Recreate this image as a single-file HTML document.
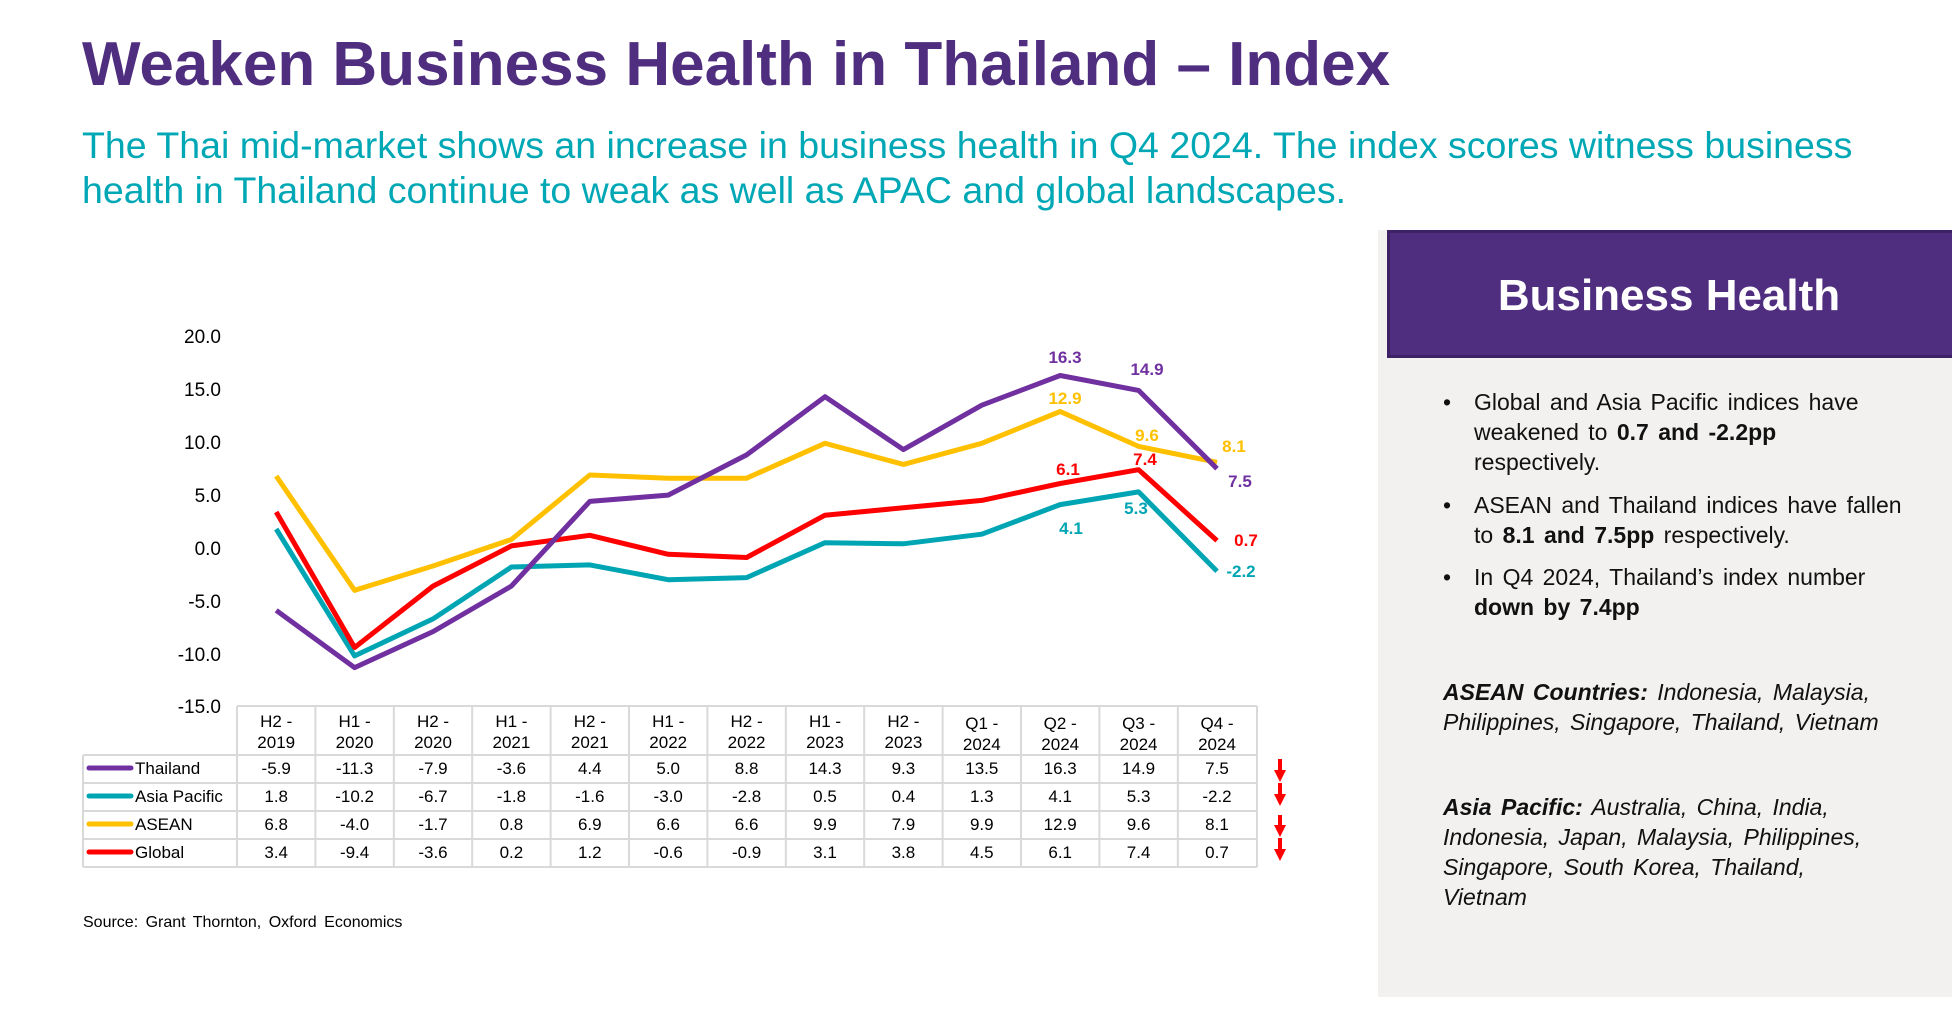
<!DOCTYPE html>
<html><head><meta charset="utf-8"><style>
body{margin:0;width:1952px;height:1029px;background:#fff;overflow:hidden;font-family:"Liberation Sans",Arial,sans-serif;}
</style></head><body>
<svg width="1952" height="1029" viewBox="0 0 1952 1029" xmlns="http://www.w3.org/2000/svg" font-family="Liberation Sans, Arial, sans-serif">
<text x="82" y="85" font-size="62" font-weight="bold" fill="#4f2d7f">Weaken Business Health in Thailand – Index</text>
<text x="82" y="158" font-size="37.5" fill="#00a7b5">The Thai mid-market shows an increase in business health in Q4 2024. The index scores witness business</text>
<text x="82" y="203" font-size="37.5" fill="#00a7b5">health in Thailand continue to weak as well as APAC and global landscapes.</text>

<!-- right panel -->
<rect x="1378" y="230" width="574" height="767" fill="#f2f1f0"/>
<rect x="1388.5" y="231.5" width="570" height="125" fill="#4f2d7f" stroke="#3c2164" stroke-width="3"/>
<text x="1669" y="310" font-size="44" font-weight="bold" fill="#fff" text-anchor="middle">Business Health</text>
<g font-size="23" fill="#111" word-spacing="3">
<text x="1443" y="410">•</text>
<text x="1474" y="410">Global and Asia Pacific indices have</text>
<text x="1474" y="440">weakened to <tspan font-weight="bold">0.7 and -2.2pp</tspan></text>
<text x="1474" y="470">respectively.</text>
<text x="1443" y="513">•</text>
<text x="1474" y="513">ASEAN and Thailand indices have fallen</text>
<text x="1474" y="543">to <tspan font-weight="bold">8.1 and 7.5pp</tspan> respectively.</text>
<text x="1443" y="585">•</text>
<text x="1474" y="585">In Q4 2024, Thailand’s index number</text>
<text x="1474" y="615" font-weight="bold">down by 7.4pp</text>
<g font-style="italic">
<text x="1443" y="700"><tspan font-weight="bold">ASEAN Countries:</tspan> Indonesia, Malaysia,</text>
<text x="1443" y="730">Philippines, Singapore, Thailand, Vietnam</text>
<text x="1443" y="815"><tspan font-weight="bold">Asia Pacific:</tspan> Australia, China, India,</text>
<text x="1443" y="845">Indonesia, Japan, Malaysia, Philippines,</text>
<text x="1443" y="875">Singapore, South Korea, Thailand,</text>
<text x="1443" y="905">Vietnam</text>
</g>
</g>

<!-- y axis labels -->
<g font-size="19" fill="#000" text-anchor="end">
<text x="221" y="343">20.0</text>
<text x="221" y="396">15.0</text>
<text x="221" y="449">10.0</text>
<text x="221" y="502">5.0</text>
<text x="221" y="555">0.0</text>
<text x="221" y="608">-5.0</text>
<text x="221" y="661">-10.0</text>
<text x="221" y="713">-15.0</text>
</g>

<!-- lines -->
<g fill="none" stroke-width="5" stroke-linejoin="round">
<polyline stroke="#00a5b4" points="276.2,529 354.6,655.9 433,618.9 511.4,567 589.8,564.9 668.2,579.7 746.6,577.6 825,542.7 903.4,543.8 981.8,534.2 1060.2,504.6 1138.6,491.9 1217,571.3"/>
<polyline stroke="#ff0000" points="276.2,512 354.6,647.5 433,586.1 511.4,545.9 589.8,535.3 668.2,554.3 746.6,557.5 825,515.2 903.4,507.8 981.8,500.4 1060.2,483.5 1138.6,469.7 1217,540.6"/>
<polyline stroke="#ffc000" points="276.2,476.1 354.6,590.3 433,566 511.4,539.5 589.8,475 668.2,478.2 746.6,478.2 825,443.3 903.4,464.4 981.8,443.3 1060.2,411.5 1138.6,446.4 1217,462.3"/>
<polyline stroke="#7030a0" points="276.2,610.4 354.6,667.6 433,631.6 511.4,586.1 589.8,501.4 668.2,495.1 746.6,454.9 825,396.7 903.4,449.6 981.8,405.2 1060.2,375.5 1138.6,390.4 1217,468.7"/>
</g>
<g font-size="17" font-weight="bold" text-anchor="middle">
<text x="1065" y="363" fill="#7030a0">16.3</text>
<text x="1147" y="375" fill="#7030a0">14.9</text>
<text x="1240" y="487" fill="#7030a0">7.5</text>
<text x="1065" y="404" fill="#ffc000">12.9</text>
<text x="1147" y="441" fill="#ffc000">9.6</text>
<text x="1234" y="452" fill="#ffc000">8.1</text>
<text x="1068" y="475" fill="#ff0000">6.1</text>
<text x="1145" y="465" fill="#ff0000">7.4</text>
<text x="1246" y="546" fill="#ff0000">0.7</text>
<text x="1071" y="534" fill="#00a5b4">4.1</text>
<text x="1136" y="514" fill="#00a5b4">5.3</text>
<text x="1241" y="577" fill="#00a5b4">-2.2</text>
</g>

<!-- table -->
<g stroke="#d9d9d9" stroke-width="2" fill="none">
<line x1="237" y1="706" x2="1257" y2="706"/>
<line x1="83" y1="755" x2="1257" y2="755"/>
<line x1="83" y1="783" x2="1257" y2="783"/>
<line x1="83" y1="811" x2="1257" y2="811"/>
<line x1="83" y1="839" x2="1257" y2="839"/>
<line x1="83" y1="867" x2="1257" y2="867"/>
<line x1="83" y1="755" x2="83" y2="867"/>
<line x1="237" y1="706" x2="237" y2="867"/>
<line x1="315.4" y1="706" x2="315.4" y2="867"/>
<line x1="393.8" y1="706" x2="393.8" y2="867"/>
<line x1="472.2" y1="706" x2="472.2" y2="867"/>
<line x1="550.6" y1="706" x2="550.6" y2="867"/>
<line x1="629" y1="706" x2="629" y2="867"/>
<line x1="707.4" y1="706" x2="707.4" y2="867"/>
<line x1="785.8" y1="706" x2="785.8" y2="867"/>
<line x1="864.2" y1="706" x2="864.2" y2="867"/>
<line x1="942.6" y1="706" x2="942.6" y2="867"/>
<line x1="1021" y1="706" x2="1021" y2="867"/>
<line x1="1099.4" y1="706" x2="1099.4" y2="867"/>
<line x1="1177.8" y1="706" x2="1177.8" y2="867"/>
<line x1="1257" y1="706" x2="1257" y2="867"/>
</g>
<g stroke-width="5" stroke-linecap="round">
<line x1="89" y1="768" x2="131" y2="768" stroke="#7030a0"/>
<line x1="89" y1="796" x2="131" y2="796" stroke="#00a5b4"/>
<line x1="89" y1="824" x2="131" y2="824" stroke="#ffc000"/>
<line x1="89" y1="852" x2="131" y2="852" stroke="#ff0000"/>
</g>
<g font-size="17" fill="#000">
<text x="135" y="774">Thailand</text>
<text x="135" y="802">Asia Pacific</text>
<text x="135" y="830">ASEAN</text>
<text x="135" y="858">Global</text>
</g>
<g font-size="17" fill="#000" text-anchor="middle">
<text x="276.2" y="727">H2 -</text><text x="276.2" y="748">2019</text>
<text x="354.6" y="727">H1 -</text><text x="354.6" y="748">2020</text>
<text x="433" y="727">H2 -</text><text x="433" y="748">2020</text>
<text x="511.4" y="727">H1 -</text><text x="511.4" y="748">2021</text>
<text x="589.8" y="727">H2 -</text><text x="589.8" y="748">2021</text>
<text x="668.2" y="727">H1 -</text><text x="668.2" y="748">2022</text>
<text x="746.6" y="727">H2 -</text><text x="746.6" y="748">2022</text>
<text x="825" y="727">H1 -</text><text x="825" y="748">2023</text>
<text x="903.4" y="727">H2 -</text><text x="903.4" y="748">2023</text>
<text x="981.8" y="729">Q1 -</text><text x="981.8" y="750">2024</text>
<text x="1060.2" y="729">Q2 -</text><text x="1060.2" y="750">2024</text>
<text x="1138.6" y="729">Q3 -</text><text x="1138.6" y="750">2024</text>
<text x="1217" y="729">Q4 -</text><text x="1217" y="750">2024</text>
</g>
<g font-size="17" fill="#000" text-anchor="middle">
<g transform="translate(0,774)">
<text x="276.2">-5.9</text><text x="354.6">-11.3</text><text x="433">-7.9</text><text x="511.4">-3.6</text><text x="589.8">4.4</text><text x="668.2">5.0</text><text x="746.6">8.8</text><text x="825">14.3</text><text x="903.4">9.3</text><text x="981.8">13.5</text><text x="1060.2">16.3</text><text x="1138.6">14.9</text><text x="1217">7.5</text>
</g>
<g transform="translate(0,802)">
<text x="276.2">1.8</text><text x="354.6">-10.2</text><text x="433">-6.7</text><text x="511.4">-1.8</text><text x="589.8">-1.6</text><text x="668.2">-3.0</text><text x="746.6">-2.8</text><text x="825">0.5</text><text x="903.4">0.4</text><text x="981.8">1.3</text><text x="1060.2">4.1</text><text x="1138.6">5.3</text><text x="1217">-2.2</text>
</g>
<g transform="translate(0,830)">
<text x="276.2">6.8</text><text x="354.6">-4.0</text><text x="433">-1.7</text><text x="511.4">0.8</text><text x="589.8">6.9</text><text x="668.2">6.6</text><text x="746.6">6.6</text><text x="825">9.9</text><text x="903.4">7.9</text><text x="981.8">9.9</text><text x="1060.2">12.9</text><text x="1138.6">9.6</text><text x="1217">8.1</text>
</g>
<g transform="translate(0,858)">
<text x="276.2">3.4</text><text x="354.6">-9.4</text><text x="433">-3.6</text><text x="511.4">0.2</text><text x="589.8">1.2</text><text x="668.2">-0.6</text><text x="746.6">-0.9</text><text x="825">3.1</text><text x="903.4">3.8</text><text x="981.8">4.5</text><text x="1060.2">6.1</text><text x="1138.6">7.4</text><text x="1217">0.7</text>
</g>
</g>
<!-- arrows -->
<g fill="#ff0000">
<rect x="1278" y="759" width="4" height="12"/><polygon points="1274,770 1286,770 1280,782"/>
<rect x="1278" y="783" width="4" height="12"/><polygon points="1274,794 1286,794 1280,806"/>
<rect x="1278" y="815" width="4" height="11"/><polygon points="1274,825 1286,825 1280,837"/>
<rect x="1278" y="838" width="4" height="12"/><polygon points="1274,849 1286,849 1280,861"/>
</g>
<text x="83" y="927" font-size="16" fill="#000" word-spacing="3">Source: Grant Thornton,  Oxford Economics</text>
</svg>
</body></html>
